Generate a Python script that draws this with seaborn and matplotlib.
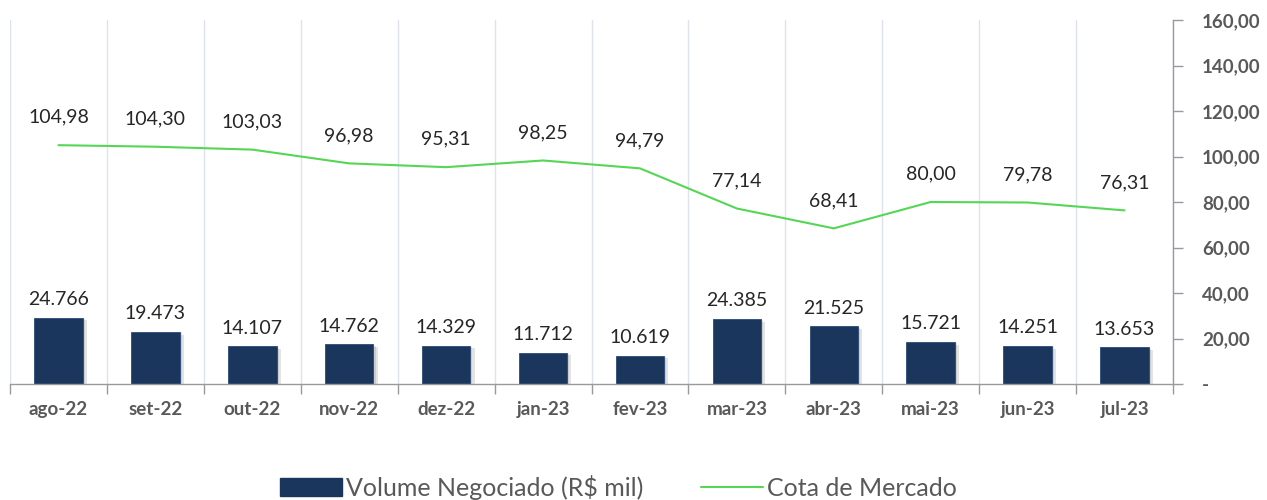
import matplotlib
matplotlib.use("Agg")
import matplotlib.pyplot as plt
import matplotlib.patheffects as pe
from matplotlib.patches import Patch
from matplotlib.lines import Line2D
from matplotlib.ticker import FixedLocator, FuncFormatter
import seaborn as sns
import pandas as pd
import numpy as np

months = ["ago-22", "set-22", "out-22", "nov-22", "dez-22", "jan-23",
          "fev-23", "mar-23", "abr-23", "mai-23", "jun-23", "jul-23"]
volume = [24766, 19473, 14107, 14762, 14329, 11712,
          10619, 24385, 21525, 15721, 14251, 13653]
cota = [104.98, 104.30, 103.03, 96.98, 95.31, 98.25,
        94.79, 77.14, 68.41, 80.00, 79.78, 76.31]
right_ticks = [0, 20, 40, 60, 80, 100, 120, 140, 160]

sns.set_theme(style="white")
plt.rcParams['font.family'] = ['Lato', 'DejaVu Sans']

BAR = "#1b365d"
GREEN = "#55d655"
GRAY = "#595959"
AXC = "#9a9a9a"

df = pd.DataFrame({"mes": months, "volume": volume, "cota": cota})

fig = plt.figure(figsize=(12.67, 5.0), dpi=100)
ax = fig.add_axes([10/1267, 116/500, (1173-10)/1267, 364/500])

sns.barplot(data=df, x="mes", y="volume", ax=ax, color=BAR, width=0.5,
            saturation=1, edgecolor="#2a4a7a", linewidth=0.6)
for p in ax.patches:
    p.set_path_effects([pe.SimplePatchShadow(offset=(3, -2), alpha=0.18, shadow_rgbFace="#666666"),
                        pe.SimplePatchShadow(offset=(1.5, -1), alpha=0.18, shadow_rgbFace="#666666"),
                        pe.Normal()])
ax.set_ylim(0, 136000)
ax.set_xlim(-0.5, len(months) - 0.5)
ax.set_xlabel("")
ax.set_ylabel("")
ax.set_yticks([])
for s in ["left", "top", "right"]:
    ax.spines[s].set_visible(False)
ax.spines["bottom"].set_color(AXC)
ax.spines["bottom"].set_linewidth(1.0)

ax.xaxis.set_minor_locator(FixedLocator(np.arange(-0.5, len(months), 1.0)))
ax.tick_params(axis="x", which="major", length=0, pad=12, labelsize=13.5, labelcolor=GRAY)
ax.tick_params(axis="x", which="minor", length=7, width=1, color=AXC, direction="out", bottom=True)
for lab in ax.get_xticklabels():
    lab.set_fontweight("bold")
ax.grid(False)
ax.xaxis.grid(True, which="minor", color="#dce3ee", linewidth=1)
ax.set_axisbelow(True)

for i, v in enumerate(volume):
    ax.annotate(f"{v:,}".replace(",", "."), (i, v), xytext=(0, 7),
                textcoords="offset points", ha="center", va="bottom",
                fontsize=14, color="#262626")

ax2 = ax.twinx()
sns.lineplot(x=np.arange(len(months)), y=cota, ax=ax2, color=GREEN, linewidth=1.5)
ax2.set_ylim(0, 160)
ax2.set_yticks(right_ticks)
ax2.yaxis.set_major_formatter(FuncFormatter(
    lambda v, _: "-" if v == 0 else f"{v:.2f}".replace(".", ",")))
ax2.tick_params(axis="y", length=7, width=1, color=AXC, pad=14,
                labelsize=13.5, labelcolor=GRAY)
for lab in ax2.get_yticklabels():
    lab.set_fontweight("bold")
for s in ["left", "top", "bottom"]:
    ax2.spines[s].set_visible(False)
ax2.spines["right"].set_color(AXC)
ax2.spines["right"].set_linewidth(1.0)
ax2.grid(False)

for i, v in enumerate(cota):
    ax2.annotate(f"{v:.2f}".replace(".", ","), (i, v), xytext=(0, 14),
                 textcoords="offset points", ha="center", va="bottom",
                 fontsize=14, color="#262626")

handles = [Patch(facecolor=BAR, edgecolor=BAR),
           Line2D([0], [0], color=GREEN, linewidth=1.5)]
leg = fig.legend(handles, ["Volume Negociado (R$ mil)", "Cota de Mercado"],
                 loc="center", bbox_to_anchor=(0.488, 0.026), ncol=2, frameon=False,
                 fontsize=18, handlelength=2.5, handleheight=0.75,
                 columnspacing=2.3, handletextpad=0.15)
for t in leg.get_texts():
    t.set_color(GRAY)

fig.savefig("out.png", dpi=100)
